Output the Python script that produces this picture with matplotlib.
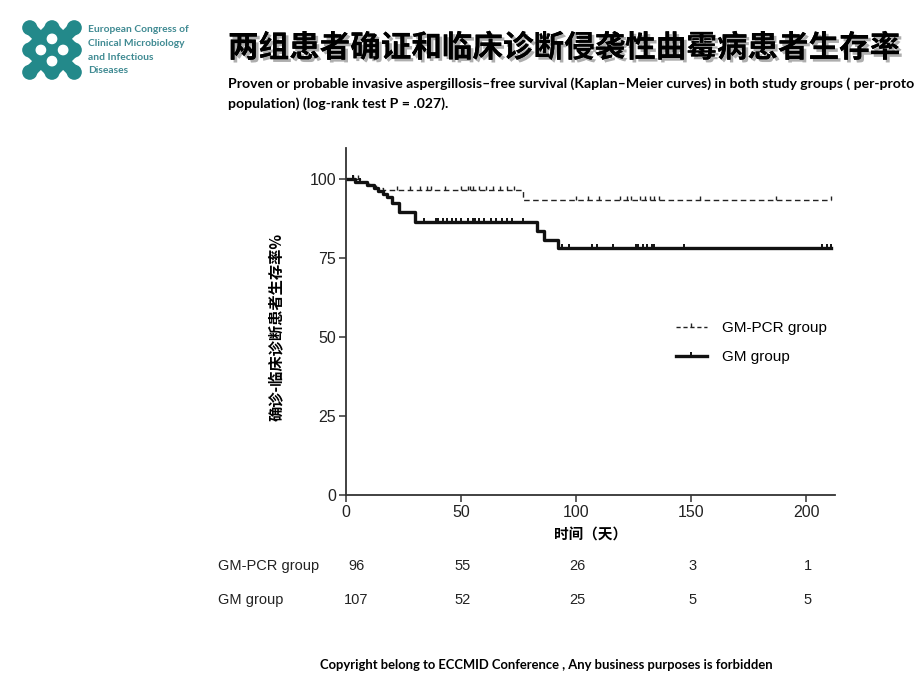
import numpy as np
import matplotlib
matplotlib.use("Agg")
import matplotlib.pyplot as plt
import matplotlib.patheffects as pe
from matplotlib.lines import Line2D
from matplotlib import font_manager

# step curves (days, survival %)
pcr_times = [0, 6, 10, 13, 16, 77, 211]
pcr_surv = [100, 99.0, 98.0, 97.0, 96.6, 93.4, 93.4]
gm_times = [0, 4, 9, 12, 14, 16, 18, 20, 23, 30, 83, 86, 92, 211]
gm_surv = [100, 99.1, 98.1, 97.1, 96.2, 95.2, 94.2, 92.3, 89.6, 86.3, 83.6, 80.8, 78.3, 78.3]

# censored observations (days)
pcr_censor = [3, 5, 22, 28, 32, 35, 37, 43, 50, 53, 54, 55, 58, 61, 64, 67, 70, 73,
              100, 105, 110, 119, 122, 124, 128, 130, 132, 134, 136, 154, 187, 211]
gm_censor = [3, 6, 34, 39, 40, 42, 44, 46, 48, 50, 53, 55, 56, 58, 60, 63, 65, 68, 70,
             72, 77, 94, 97, 107, 109, 116, 126, 127, 129, 131, 133, 134, 147, 207, 209, 211]

# numbers at risk
risk_days = [0, 50, 100, 150, 200]
risk_pcr = [96, 55, 26, 3, 1]
risk_gm = [107, 52, 25, 5, 5]

x_ticks = [0, 50, 100, 150, 200]
y_ticks = [0, 25, 50, 75, 100]

title = "两组患者确证和临床诊断侵袭性曲霉病患者生存率"
# the slide cuts the first line off at its right edge
subtitle1 = "Proven or probable invasive aspergillosis\u2013free survival (Kaplan\u2013Meier curves) in both study groups ( per-proto"
subtitle2 = "population) (log-rank test P = .027)."
ylabel = "确诊-临床诊断患者生存率%"
xlabel = "时间（天）"
footer = "Copyright belong to ECCMID Conference , Any business purposes is forbidden"
logo_lines = ["European Congress of", "Clinical Microbiology", "and Infectious", "Diseases"]

installed = {f.name for f in font_manager.fontManager.ttflist}
narrow = "Liberation Sans Narrow" if "Liberation Sans Narrow" in installed else "Liberation Sans"
cjk = ["Noto Sans CJK SC", "DejaVu Sans"]


def step_at(times, surv, x):
    idx = np.searchsorted(times, x, side="right") - 1
    return np.array(surv)[idx]


fig = plt.figure(figsize=(9.2, 6.9), dpi=100)
fig.patch.set_facecolor("white")

ax = fig.add_axes([0.3761, 0.2826, 0.5315, 0.5029])
ax.step(pcr_times, pcr_surv, where="post", color="#222222", lw=1.0, dashes=(4, 2.5))
ax.step(gm_times, gm_surv, where="post", color="#111111", lw=2.4)
ax.plot(pcr_censor, step_at(pcr_times, pcr_surv, pcr_censor), ls="none",
        marker=2, ms=3, mew=1.0, color="#222222")
ax.plot(gm_censor, step_at(gm_times, gm_surv, gm_censor), ls="none",
        marker=2, ms=3, mew=1.4, color="#111111")

ax.set_xlim(0, 212.6)
ax.set_ylim(0, 109.8)
ax.set_xticks(x_ticks)
ax.set_yticks(y_ticks)
for s in ["top", "right"]:
    ax.spines[s].set_visible(False)
for s in ["left", "bottom"]:
    ax.spines[s].set_linewidth(1.3)
    ax.spines[s].set_color("#333333")
ax.tick_params(direction="out", length=5, width=1.1, color="#333333",
               labelsize=11.5, labelcolor="#222222", pad=2)
for lab in ax.get_xticklabels() + ax.get_yticklabels():
    lab.set_family("Liberation Sans")

ax.set_xlabel(xlabel, family=cjk, fontsize=10.5, fontweight="bold", labelpad=5)
ax.set_ylabel(ylabel, family=cjk, fontsize=11, fontweight="bold")
ax.yaxis.set_label_coords(-0.127, 0.484)

handles = [
    Line2D([0], [0], color="#222222", lw=1.0, dashes=(3, 2), marker=2, ms=3),
    Line2D([0], [0], color="#111111", lw=2.4, marker=2, ms=3, mew=1.4),
]
ax.legend(handles, ["GM-PCR group", "GM group"], loc="upper left",
          bbox_to_anchor=(0.647, 0.541), frameon=False, handlelength=2.0,
          handletextpad=1.0, labelspacing=1.0, numpoints=1,
          prop={"family": "Liberation Sans", "size": 11})

# numbers at risk table
for row_y, label, vals in [(0.179, "GM-PCR group", risk_pcr), (0.130, "GM group", risk_gm)]:
    fig.text(218 / 920, row_y, label, family=narrow, fontsize=10.5, color="#222222", va="center")
    for i, (d, v) in enumerate(zip(risk_days, vals)):
        xf = fig.transFigure.inverted().transform(ax.transData.transform((d, 0)))[0]
        fig.text(xf + (0.011 if i == 0 else 0.002), row_y, str(v), family=narrow,
                 fontsize=10.5, color="#222222", va="center", ha="center")

# title and subtitle
fig.text(228 / 920, 1 - 48 / 690, title, family=cjk, fontsize=22, fontweight="bold",
         color="black", va="center", ha="left",
         path_effects=[pe.withSimplePatchShadow(offset=(2, -2), shadow_rgbFace="#9a9a9a", alpha=0.8),
                       pe.Normal()])
fig.text(228 / 920, 1 - 84 / 690, subtitle1, family="Lato", fontsize=10.1,
         fontweight="bold", color="black", va="center")
fig.text(228 / 920, 1 - 104 / 690, subtitle2, family="Lato", fontsize=10.1,
         fontweight="bold", color="black", va="center")

fig.text(546 / 920, 1 - 665 / 690, footer, family="Lato", fontsize=9.4, fontweight="bold",
         color="black", ha="center", va="center")

# logo
lax = fig.add_axes([22 / 920, 1 - 80 / 690, 60 / 920, 60 / 690])
lax.set_xlim(-0.7, 4.7)
lax.set_ylim(-0.7, 4.7)
lax.set_aspect("equal")
lax.axis("off")
teal = "#23898a"
segs = [((0, 0), (4, 4)), ((4, 0), (0, 4)), ((2, 0), (0, 2)), ((2, 0), (4, 2)),
        ((0, 2), (2, 4)), ((4, 2), (2, 4))]
for (x0, y0), (x1, y1) in segs:
    lax.plot([x0, x1], [y0, y1], color=teal, lw=9, solid_capstyle="round")
for px, py in [(0, 0), (2, 0), (4, 0), (0, 2), (4, 2), (0, 4), (2, 4), (4, 4)]:
    lax.add_patch(plt.Circle((px, py), 0.62, color=teal))
for px, py in [(2, 1), (1, 2), (3, 2), (2, 3)]:
    lax.add_patch(plt.Circle((px, py), 0.42, color="white", zorder=5))

for i, line in enumerate(logo_lines):
    fig.text(88 / 920, 1 - (30 + i * 13.5) / 690, line, family="Lato", fontsize=7.4,
             fontweight="bold", color="#3f8a92", va="center")

fig.savefig("out.png", dpi=100)
